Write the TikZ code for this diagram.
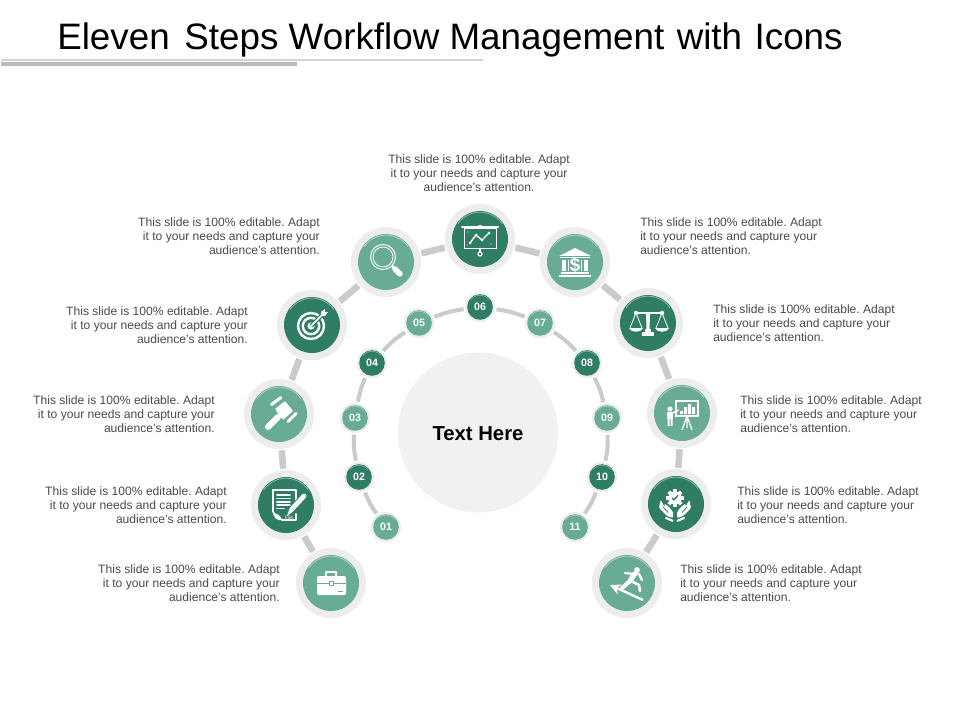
\documentclass[tikz,border=0pt]{standalone}
\usepackage{fontspec}
\setmainfont{Liberation Sans}
\usetikzlibrary{arrows.meta}
\definecolor{darkg}{RGB}{47,125,100}
\definecolor{lightg}{RGB}{104,172,150}
\definecolor{ringc}{RGB}{237,237,237}
\definecolor{linkc}{RGB}{203,203,203}
\definecolor{bodyc}{RGB}{75,75,75}
\newcommand\sometext{This slide is 100\% editable. Adapt\\it to your needs and capture your\\audience's attention.}
\tikzset{
  x=.75pt,y=-.75pt,
  bigbase/.style={circle,fill=ringc,minimum size=52.5pt,inner sep=0pt,outer sep=1pt},
  smallbase/.style={circle,fill=ringc,minimum size=22.5pt,inner sep=0pt,outer sep=1.2pt,
    text=white,font=\fontsize{8}{8}\selectfont\bfseries},
  bigdisc/.style={bigbase,path picture={
    \fill[#1] (path picture bounding box.center) circle (21pt);
    \draw[#1!55!white,line width=.6pt,x=.75pt,y=.75pt] (path picture bounding box.center) ++(145:26.8) arc[start angle=145,end angle=35,radius=26.8];}},
  smalldisc/.style={smallbase,path picture={
    \fill[#1] (path picture bounding box.center) circle (9.6pt);
    \draw[#1!55!white,line width=.4pt,x=.75pt,y=.75pt] (path picture bounding box.center) ++(140:11.8) arc[start angle=140,end angle=40,radius=11.8];}},
  biglink/.style={draw=linkc,line width=4.9pt},
  smalllink/.style={draw=linkc,line width=3pt},
  bodytext/.style={inner sep=0pt,text=bodyc,font=\fontsize{9.07}{10.5}\selectfont},
  leftnote/.style={bodytext,anchor=east,align=right},
  rightnote/.style={bodytext,anchor=west,align=left},
  iconline/.style={draw=white,line cap=round,line join=round},
}
\frenchspacing
\begin{document}
\begin{tikzpicture}
\useasboundingbox (0,0) rectangle (960,720);
\fill[white] (0,0) rectangle (960,720);
% title
\node[anchor=base west,inner sep=0pt,font=\fontsize{27.6}{27.6}\selectfont] (title) at (57,50) {Eleven\hspace{.12em} Steps Workflow Management\hspace{.06em} with\hspace{.06em} Icons};
\fill[black!17] (1,59.3) rectangle (483,60.8);
\fill[black!27] (1,62) rectangle (297,65.8);
% centre
\node[circle,fill=black!5.5,minimum size=120pt,inner sep=0pt] (hub) at (478,432.5) {};
\node[inner sep=0pt,font=\fontsize{15.2}{15.2}\selectfont\bfseries] (hubtext) at (478,434) {Text Here};
% big nodes
\node[bigdisc=lightg] (b1) at (331,583) {};
\node[bigdisc=darkg] (b2) at (286,505) {};
\node[bigdisc=lightg] (b3) at (279,414) {};
\node[bigdisc=darkg] (b4) at (312,325) {};
\node[bigdisc=lightg] (b5) at (386,262) {};
\node[bigdisc=darkg] (b6) at (480,239) {};
\node[bigdisc=lightg] (b7) at (575,262) {};
\node[bigdisc=darkg] (b8) at (648,323) {};
\node[bigdisc=lightg] (b9) at (682,413) {};
\node[bigdisc=darkg] (b10) at (676,504) {};
\node[bigdisc=lightg] (b11) at (627,583) {};
\foreach \p/\q in {b1/b2,b2/b3,b3/b4,b4/b5,b5/b6,b6/b7,b7/b8,b8/b9,b9/b10,b10/b11}
  \draw[biglink] (\p) -- (\q);
% small nodes
\node[smalldisc=lightg] (s1) at (386,527) {01};
\node[smalldisc=darkg] (s2) at (359,477) {02};
\node[smalldisc=lightg] (s3) at (355,418) {03};
\node[smalldisc=darkg] (s4) at (372,363) {04};
\node[smalldisc=lightg] (s5) at (419,323) {05};
\node[smalldisc=darkg] (s6) at (480,307) {06};
\node[smalldisc=lightg] (s7) at (540,323) {07};
\node[smalldisc=darkg] (s8) at (587,363) {08};
\node[smalldisc=lightg] (s9) at (607,418) {09};
\node[smalldisc=darkg] (s10) at (602,477) {10};
\node[smalldisc=lightg] (s11) at (575,527) {11};
\foreach \p/\q in {s1/s2,s2/s3,s3/s4,s4/s5,s5/s6,s6/s7,s7/s8,s8/s9,s9/s10,s10/s11}
  \draw[smalllink] (\p) to[bend left=7] (\q);
% notes
\node[bodytext,align=center] (n6) at (479,173) {\sometext};
\node[leftnote] (n5) at (320,236) {\sometext};
\node[leftnote] (n4) at (248,325) {\sometext};
\node[leftnote] (n3) at (215,414) {\sometext};
\node[leftnote] (n2) at (227,505) {\sometext};
\node[leftnote] (n1) at (280,583) {\sometext};
\node[rightnote] (n7) at (640,236) {\sometext};
\node[rightnote] (n8) at (713,323) {\sometext};
\node[rightnote] (n9) at (740,414) {\sometext};
\node[rightnote] (n10) at (737,505) {\sometext};
\node[rightnote] (n11) at (680,583) {\sometext};
% briefcase
\begin{scope}[shift={(b1.center)}]
  \draw[iconline,line width=1.2pt] (-5,-7) -- (-5,-11) -- (5,-11) -- (5,-7);
  \fill[white,rounded corners=1pt] (-14,-7) rectangle (15,12);
  \draw[lightg,line width=.6pt] (-14,0) -- (15,0);
  \fill[white,draw=lightg,line width=.4pt] (-2,-2) rectangle (2,2);
  \draw[lightg,line width=.6pt] (7,8) -- (12,8);
\end{scope}
% document and pen
\begin{scope}[shift={(b2.center)}]
  \draw[iconline,line width=1.3pt] (-13,7) -- (-13,-15) -- (10,-15) -- (10,-3);
  \draw[iconline,line width=1.3pt] (-4,15) -- (10,15) -- (10,9);
  \fill[white] (-13,6) .. controls (-11,10) and (-6,8) .. (-4,15) .. controls (-9,16) and (-13,13) .. (-13,6) -- cycle;
  \foreach \yy in {-10,-6.6,-3.3,0} \draw[iconline,line width=1.2pt] (-9,\yy) -- (4,\yy);
  \draw[iconline,line width=1.2pt] (-9,3.4) -- (-2,3.4);
  \node[inner sep=0pt,text=white,font=\fontsize{3.8}{3.8}\selectfont\itshape] (filemark) at (3,13) {File};
  \draw[draw=darkg,line width=5.5pt] (19,-10) -- (3,8);
  \draw[draw=white,line width=3.6pt,line cap=round] (18,-9) -- (6,4);
  \fill[white] (7,6.5) -- (1,11) -- (3.5,3.5) -- cycle;
\end{scope}
% gavel
\begin{scope}[shift={(b3.center)}]
  \draw[iconline,line width=4.6pt] (-1,3) -- (-11,13);
  \fill[white,rounded corners=.6pt] (-4,-5) -- (6,-13) -- (14,-3) -- (4,6) -- cycle;
  \draw[iconline,line width=2.3pt] (-7.5,-9.5) -- (2,-16.5);
  \draw[iconline,line width=2.3pt] (9,7.5) -- (17,-.5);
\end{scope}
% target
\begin{scope}[shift={(b4.center)}]
  \draw[white,line width=1.8pt] (-1,1) circle (13);
  \draw[white,line width=1.8pt] (-1,1) circle (8.2);
  \fill[white] (-1,1) circle (3.6);
  \draw[darkg,line width=3pt] (-1,1) -- (11,-11);
  \draw[white,line width=1.1pt] (-1,1) -- (11,-11);
  \fill[white] (9,-9) -- (9,-13) -- (13,-16) -- (13,-13) -- (16,-13) -- (13,-9) -- cycle;
\end{scope}
% magnifier
\begin{scope}[shift={(b5.center)}]
  \draw[white,line width=.8pt] (-3,-5) circle (12.5);
  \draw[white,line width=.6pt] (-3,-5) circle (10);
  \draw[white,line width=2pt] (6,4) -- (8,6);
  \draw[iconline,line width=4pt] (9,7) -- (14,12);
\end{scope}
% chart board
\begin{scope}[shift={(b6.center)}]
  \draw[iconline,line width=1.5pt] (-18,-12) -- (18,-12);
  \draw[iconline,line width=1.2pt] (-1,-13.5) -- (1,-13.5);
  \draw[white,line width=.7pt] (-16,-11) rectangle (16,9);
  \draw[white,line width=1pt] (0,9) -- (0,13);
  \draw[white,line width=.9pt] (0,15) circle (2);
  \draw[white,line width=1pt] (-10,4) -- (-4,-4) -- (2,1) -- (9,-6);
  \foreach \dx/\dy in {-10/4,-4/-4,2/1,9/-6} \fill[white] (\dx,\dy) circle (1.5);
  \fill[white] (-12,-7) circle (.6) (11,5) circle (.6) (-13,6) circle (.5);
\end{scope}
% bank
\begin{scope}[shift={(b7.center)}]
  \fill[white] (-16,-6) -- (0,-14) -- (16,-6) -- cycle;
  \fill[white] (-15,-5) rectangle (15,-3.5);
  \fill[white] (-13,-2) rectangle (-9,9.5);
  \fill[white] (9,-2) rectangle (13,9.5);
  \fill[white] (-7,-2) rectangle (-6,9.5);
  \fill[white] (6,-2) rectangle (7,9.5);
  \node[inner sep=0pt,text=white,font=\fontsize{14}{14}\selectfont\bfseries] (bankmark) at (0,3.5) {\$};
  \fill[white] (-14,10.5) rectangle (14,12);
  \fill[white] (-16,13.2) rectangle (16,14.7);
\end{scope}
% scales
\begin{scope}[shift={(b8.center)}]
  \draw[iconline,line width=1.6pt] (-12,-10) -- (14,-10);
  \fill[white] (-2,-10) -- (2,-10) -- (1.5,7) -- (-1.5,7) -- cycle;
  \fill[white] (-3,6) rectangle (3,9);
  \fill[white] (-6,9) rectangle (6,13);
  \foreach \cx in {-12,14}{
    \fill[white] (\cx,-10) circle (2.2);
    \draw[white,line width=.6pt] (\cx-6,5) -- (\cx,-10) -- (\cx+6,5);
    \fill[white] (\cx-7,5) .. controls (\cx-5,10) and (\cx+5,10) .. (\cx+7,5) -- cycle;
  }
\end{scope}
% presenter
\begin{scope}[shift={(b9.center)}]
  \draw[white,line width=1pt] (-6,-12) rectangle (16,3);
  \draw[white,line width=.9pt] (5,3) -- (0,17) (5,3) -- (10,17) (5,3) -- (5,15);
  \fill[white] (-2,-2) rectangle (1,1) (2,-6) rectangle (5,1) (6,-9) rectangle (9,1) (10,-6) rectangle (13,1);
  \fill[white] (-12,-4) circle (2.6);
  \fill[white] (-15,-1) rectangle (-9,6);
  \fill[white] (-14.5,6) rectangle (-12.5,13) (-11.5,6) rectangle (-9.5,13);
  \draw[white,line width=1pt] (-9.5,0) -- (-3,-3);
\end{scope}
% hands and gear
\begin{scope}[shift={(b10.center)}]
  \foreach \a in {0,45,...,315} \draw[white,line width=2.8pt] (-1,-6) -- ++(\a:8.8);
  \fill[white] (-1,-6) circle (6.5);
  \draw[darkg,line width=1pt,line cap=round,line join=round] (-3.8,-6) -- (-2,-4) -- (1.8,-8.5);
  \begin{scope}[shift={(-1,0)}]
  \foreach \sx in {1,-1}{
    \begin{scope}[xscale=\sx]
      \fill[white,rounded corners=.8pt] (-14.5,-4) -- (-16,4) -- (-8,12) -- (-2,14) -- (-2,8) -- (-6,3) -- (-10.5,-.5) -- (-10.5,3) -- (-12.5,-1) -- cycle;
      \draw[darkg,line width=.6pt] (-12,3) -- (-7,8.5);
      \draw[iconline,line width=1.6pt] (-9,14) -- (-2.5,16.8);
    \end{scope}
  }
  \end{scope}
\end{scope}
% runner
\begin{scope}[shift={(b11.center)}]
  \draw[draw=white,line width=1.8pt,-{Stealth[length=8pt,width=8pt]}] (16,17) -- (-17,2);
  \fill[white] (10,-13) circle (2.9);
  \draw[iconline,line width=3.8pt] (7.5,-9) -- (3,-2);
  \draw[iconline,line width=1.7pt] (7,-9) -- (-2,-10) (7,-9) -- (12,-9) -- (15,-3);
  \draw[iconline,line width=3pt] (3,-2) -- (-5,5);
  \draw[iconline,line width=1.9pt] (4,-2) -- (12,2) -- (13,8);
\end{scope}
\end{tikzpicture}
\end{document}
